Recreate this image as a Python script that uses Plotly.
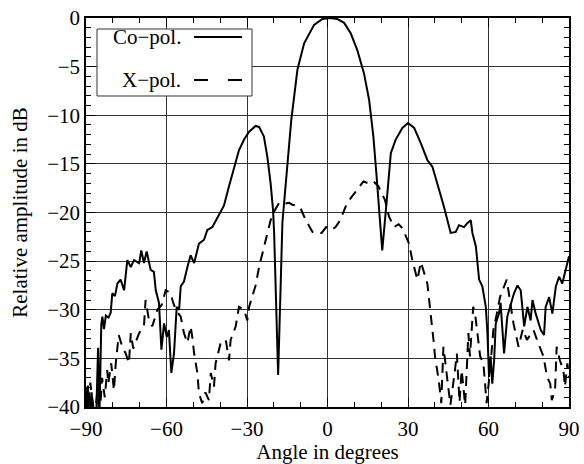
import plotly.graph_objects as go

# Co-polar pattern (angle in degrees, relative amplitude in dB)
co_angle = [-90, -89.3, -88.7, -87.9, -87.3, -86.2, -85.5, -85.0, -84.3, -83.9, -83.3, -82.6,
            -81.6, -80.8, -80.2, -79.2, -78.3, -77.1, -75.8, -74.6, -73.3, -72.1, -70.2, -69.4,
            -68.4, -67.4, -65.9, -64.7, -64.0, -62.8, -61.9, -60.9, -59.9, -59.1, -58.2, -57.2,
            -56.2, -55.3, -54.7, -53.5, -52.2, -51.0, -49.7, -47.9, -46.0, -44.8, -42.9, -41.1,
            -38.6, -36.7, -34.8, -33.0, -31.1, -29.2, -26.8, -25.5, -23.7, -22.4, -21.2, -20.3,
            -19.9, -18.4, -16.8, -16.2, -15.0, -13.5, -11.2, -8.7, -5.0, -1.9, 1.0, 3.6,
            6.2, 8.7, 11.1, 13.6, 15.5, 17.1, 18.3, 19.2, 20.4, 22.1, 23.6, 25.4,
            27.9, 30.0, 32.3, 34.8, 37.2, 39.1, 40.9, 43.4, 45.9, 47.8, 49.0, 50.9,
            52.1, 53.4, 54.0, 55.3, 56.5, 57.7, 59.0, 59.6, 60.2, 60.8, 61.4, 62.1,
            62.7, 63.9, 64.5, 65.8, 67.0, 68.3, 69.5, 70.8, 72.0, 73.3, 74.5, 75.7,
            76.4, 77.6, 79.5, 80.7, 81.3, 82.6, 83.8, 85.1, 86.3, 87.5, 88.8, 90.0]
co_db = [-41, -37.8, -41, -38.5, -41, -41, -33.9, -41, -31.5, -30.7, -32.0, -30.6,
         -30.8, -30.3, -28.3, -28.6, -27.3, -26.9, -28.0, -24.9, -25.6, -24.9, -25.2, -23.9,
         -25.2, -24.0, -25.9, -26.1, -28.0, -29.3, -34.1, -31.4, -32.8, -32.1, -36.5, -34.5,
         -29.7, -30.0, -27.6, -27.1, -25.6, -24.4, -25.2, -23.2, -22.8, -21.8, -21.5, -20.6,
         -19.3, -17.3, -15.3, -13.6, -12.5, -11.7, -11.1, -11.2, -12.2, -14.3, -17.0, -19.7,
         -22.0, -36.7, -21.0, -19.1, -15.3, -10.5, -5.3, -2.6, -0.7, -0.1, 0.0, -0.1,
         -0.5, -1.6, -3.3, -5.7, -8.4, -12.2, -16.3, -19.7, -23.9, -18.7, -13.9, -12.5,
         -11.3, -10.8, -11.3, -12.9, -14.6, -15.3, -17.0, -19.4, -22.1, -22.0, -21.3, -21.5,
         -21.1, -20.8, -22.1, -23.5, -26.9, -27.6, -29.7, -32.4, -36.9, -34.8, -37.6, -35.2,
         -31.4, -30.4, -29.3, -34.5, -30.7, -29.3, -28.3, -27.5, -28.0, -31.7, -29.7, -31.1,
         -29.0, -30.4, -32.1, -32.6, -29.7, -28.7, -30.4, -27.6, -26.6, -27.3, -25.9, -24.5]

# Cross-polar pattern
x_angle = [-90, -89.2, -88.4, -87.6, -86.8, -85.8, -84.9, -84.0, -83.0, -82.1, -81.7, -80.6,
           -79.6, -78.9, -77.8, -76.5, -75.2, -74.0, -73.3, -72.4, -71.5, -70.2, -68.4, -67.8,
           -66.5, -65.3, -63.4, -61.8, -60.3, -58.4, -57.8, -56.6, -54.7, -53.5, -52.2, -51.0,
           -50.4, -49.7, -48.5, -47.9, -46.7, -45.5, -44.2, -43.5, -42.3, -41.7, -39.8, -37.9,
           -36.7, -36.1, -34.2, -33.0, -31.1, -29.9, -29.2, -28.0, -26.8, -25.5, -23.7, -21.2,
           -19.9, -18.0, -16.2, -14.3, -13.1, -11.5, -10.0, -8.1, -5.6, -4.4, -2.2, -0.5,
           1.4, 3.0, 4.7, 7.2, 9.0, 12.1, 13.4, 15.2, 17.1, 19.0, 21.4, 22.9,
           24.8, 26.5, 27.9, 30.4, 31.6, 33.5, 34.8, 37.2, 38.2, 38.7, 39.5, 40.3,
           40.7, 41.6, 42.4, 43.2, 44.4, 45.8, 47.5, 48.2, 49.2, 50.0, 51.3, 52.5,
           53.1, 54.3, 55.0, 56.9, 58.1, 59.3, 60.6, 61.8, 63.1, 64.3, 66.8, 69.3,
           71.2, 72.8, 74.3, 76.8, 78.6, 80.5, 81.8, 83.0, 83.6, 84.8, 85.4, 86.6,
           87.9, 88.5, 89.4, 90.0]
x_db = [-38.0, -40.5, -37.5, -39.3, -41, -38.5, -41, -37.0, -39.0, -36.2, -37.6, -35.5,
        -38.3, -35.5, -32.6, -33.8, -34.5, -35.5, -32.4, -34.0, -33.4, -32.4, -31.7, -29.0,
        -31.1, -31.7, -30.0, -29.5, -28.0, -28.3, -29.0, -30.0, -30.7, -32.4, -33.4, -31.7,
        -32.8, -34.5, -36.5, -38.6, -39.6, -38.5, -39.3, -36.5, -37.9, -35.5, -33.4, -33.1,
        -35.2, -33.1, -31.7, -29.7, -30.0, -31.1, -29.7, -28.7, -27.5, -25.6, -23.5, -20.8,
        -19.9, -19.0, -19.1, -19.0, -19.2, -19.3, -19.6, -20.8, -22.0, -22.1, -22.1, -21.5,
        -21.8, -21.5, -20.8, -19.1, -18.4, -17.2, -16.8, -17.0, -16.8, -17.3, -18.7, -20.4,
        -21.5, -21.2, -21.6, -23.2, -24.9, -26.9, -25.1, -27.3, -29.7, -31.1, -33.1, -35.5,
        -35.9, -37.6, -39.6, -33.8, -36.9, -39.8, -36.2, -34.5, -39.5, -36.2, -39.8, -32.4,
        -34.8, -29.7, -30.4, -34.8, -35.5, -39.6, -36.2, -32.1, -30.4, -28.7, -26.9, -31.4,
        -33.8, -32.0, -33.1, -32.1, -33.5, -34.8, -36.9, -37.6, -39.3, -38.3, -33.8, -35.2,
        -36.2, -37.9, -35.5, -37.0]

x_ticks = [-90, -60, -30, 0, 30, 60, 90]
y_ticks = [0, -5, -10, -15, -20, -25, -30, -35, -40]

FONT = "Liberation Serif"
FS = 21

fig = go.Figure()
fig.add_trace(go.Scatter(x=co_angle, y=co_db, mode="lines", name="Co−pol.",
                         line=dict(color="black", width=2), showlegend=False))
fig.add_trace(go.Scatter(x=x_angle, y=x_db, mode="lines", name="X−pol.",
                         line=dict(color="black", width=2, dash="10px,7px"), showlegend=False))

axis_common = dict(showline=True, linecolor="black", linewidth=1.5, mirror="ticks",
                   ticks="inside", ticklen=9, tickwidth=1.2, tickcolor="black",
                   showgrid=True, gridcolor="#333", gridwidth=1, zeroline=False,
                   automargin=False,
                   tickfont=dict(family=FONT, size=FS, color="black"))

fig.update_xaxes(range=[-90, 90], tickvals=x_ticks, ticktext=[f"{v:d}".replace("-", "−") for v in x_ticks],
                 minor=dict(dtick=10, ticks="inside", ticklen=5, tickcolor="black", showgrid=False),
                 ticklabelstandoff=2,
                 title=dict(text="Angle in degrees", font=dict(family=FONT, size=FS, color="black"), standoff=6),
                 **axis_common)
fig.update_yaxes(range=[-40, 0], tickvals=y_ticks, ticktext=[f"{v:d}".replace("-", "−") for v in y_ticks],
                 minor=dict(dtick=1, ticks="inside", ticklen=5, tickcolor="black", showgrid=False),
                 title=dict(text="Relative amplitude in dB", font=dict(family=FONT, size=FS, color="black"), standoff=14),
                 **axis_common)

# custom legend box (text left, sample right)
shapes = [
    dict(type="rect", xref="paper", yref="paper", x0=0.0228, x1=0.3437, y0=0.7995, y1=0.9717,
         line=dict(color="#333", width=1), fillcolor="white", layer="above"),
    dict(type="line", xref="paper", yref="paper", x0=0.2236, x1=0.3230, y0=0.9512, y1=0.9512,
         line=dict(color="black", width=2), layer="above"),
    dict(type="line", xref="paper", yref="paper", x0=0.2236, x1=0.2526, y0=0.8406, y1=0.8406,
         line=dict(color="black", width=2), layer="above"),
    dict(type="line", xref="paper", yref="paper", x0=0.2940, x1=0.3230, y0=0.8406, y1=0.8406,
         line=dict(color="black", width=2), layer="above"),
]
annotations = [
    dict(xref="paper", yref="paper", x=0.2008, y=0.9512, text="Co−pol.", showarrow=False,
         xanchor="right", yanchor="middle", font=dict(family=FONT, size=FS, color="black")),
    dict(xref="paper", yref="paper", x=0.2008, y=0.8406, text="X−pol.", showarrow=False,
         xanchor="right", yanchor="middle", font=dict(family=FONT, size=FS, color="black")),
]

fig.update_layout(width=584, height=464, margin=dict(l=86, r=15, t=18, b=57),
                  plot_bgcolor="white", paper_bgcolor="white", showlegend=False,
                  shapes=shapes, annotations=annotations,
                  font=dict(family=FONT, size=FS, color="black"))

fig.write_html("out.html", config={"displayModeBar": False},
               post_script="document.body.style.margin='0';document.body.style.overflow='hidden';")
